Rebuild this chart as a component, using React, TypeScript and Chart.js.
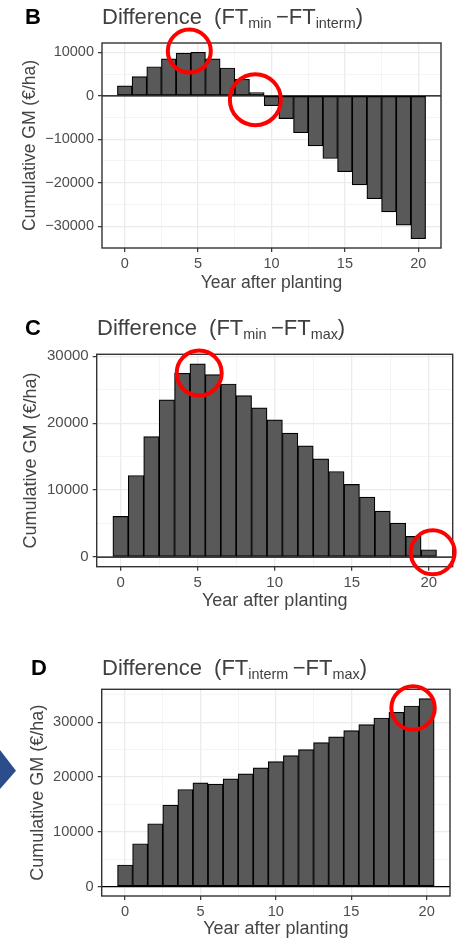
import React, { useEffect, useRef } from 'react';
import { Chart, registerables } from 'chart.js';

Chart.register(...registerables);

// ---------- data ----------
const years = [0, 1, 2, 3, 4, 5, 6, 7, 8, 9, 10, 11, 12, 13, 14, 15, 16, 17, 18, 19, 20];

// B: Difference (FT_min - FT_interm)
const diffMinInterm = [2280, 4400, 6680, 8500, 9800, 10000, 8500, 6400, 3800, 760, -2280, -5240, -8500, -11540, -14430, -17460, -20500, -23690, -26730, -29760, -32880];
// C: Difference (FT_min - FT_max)
const diffMinMax = [6070, 12190, 18010, 23480, 27460, 28860, 27260, 25870, 24130, 22290, 20500, 18510, 16620, 14680, 12790, 10850, 8960, 6870, 5070, 3080, 1090];
// D: Difference (FT_interm - FT_max)
const diffIntermMax = [3950, 7830, 11480, 14880, 17730, 18940, 18700, 19670, 20580, 21680, 22830, 23920, 25010, 26290, 27320, 28480, 29570, 30780, 31820, 32970, 34300];

const xMajorTicks = [0, 5, 10, 15, 20];
const xMinorTicks = [2.5, 7.5, 12.5, 17.5];

const yMajorTicksB = [-30000, -20000, -10000, 0, 10000];
const yMinorTicksB = [-25000, -15000, -5000, 5000];
const yMajorTicksC = [0, 10000, 20000, 30000];
const yMinorTicksC = [5000, 15000, 25000];
const yMajorTicksD = [0, 10000, 20000, 30000];
const yMinorTicksD = [5000, 15000, 25000, 35000];

// highlighted points (data coordinates)
const circlesB = [{ x: 4.4, y: 10300 }, { x: 8.9, y: -900 }];
const circlesC = [{ x: 5.1, y: 27500 }, { x: 20.25, y: 700 }];
const circlesD = [{ x: 19.1, y: 32600 }];

const xAxisTitle = 'Year after planting';
const yAxisTitle = 'Cumulative GM (€/ha)';

// ---------- styling / layout ----------
const FONT = '"Liberation Sans", Arial, Helvetica, sans-serif';
const fmt = (v: number) => (v < 0 ? '\u2212' + Math.abs(v) : String(v));

function yRange(values: number[]) {
  const mn = Math.min(0, ...values);
  const mx = Math.max(0, ...values);
  const e = (mx - mn) * 0.05;
  return [mn - e, mx + e];
}
const xMin = years[0] - 0.5 - 0.05 * (years.length);
const xMax = years[years.length - 1] + 0.5 + 0.05 * (years.length);

type PanelCfg = {
  values: number[];
  yMajor: number[];
  yMinor: number[];
  circles: { x: number; y: number }[];
  radii: number[];
  top: number;
  height: number;
  padding: { top: number; right: number; bottom: number; left: number };
  yWidth: number;
  xHeight: number;
  yTitlePad: number;
  xTitlePad: number;
  titleSize: number;
  tickSize: number;
};

const panels: PanelCfg[] = [
  {
    values: diffMinInterm, yMajor: yMajorTicksB, yMinor: yMinorTicksB, circles: circlesB, radii: [21.5, 25.5],
    top: 0, height: 300, padding: { top: 43, right: 17, bottom: 4, left: 0 }, yWidth: 102, xHeight: 48,
    yTitlePad: 19.5, xTitlePad: 2.5, titleSize: 17.5, tickSize: 14.5,
  },
  {
    values: diffMinMax, yMajor: yMajorTicksC, yMinor: yMinorTicksC, circles: circlesC, radii: [22.5, 22],
    top: 310, height: 310, padding: { top: 44.3, right: 5.3, bottom: 5.3, left: 0 }, yWidth: 96.7, xHeight: 48,
    yTitlePad: 20.5, xTitlePad: 3, titleSize: 18, tickSize: 15,
  },
  {
    values: diffIntermMax, yMajor: yMajorTicksD, yMinor: yMinorTicksD, circles: circlesD, radii: [21.7],
    top: 640, height: 300, padding: { top: 49.3, right: 8, bottom: 0, left: 0 }, yWidth: 101.7, xHeight: 44,
    yTitlePad: 27.3, xTitlePad: 0, titleSize: 18, tickSize: 14.6,
  },
];

const headers = [
  { letter: 'B', a: 'min', b: 'interm', letterX: 25, titleX: 102, baseline: 25 },
  { letter: 'C', a: 'min', b: 'max', letterX: 25, titleX: 97, baseline: 336 },
  { letter: 'D', a: 'interm', b: 'max', letterX: 31, titleX: 102, baseline: 675.7 },
];

function Panel({ cfg }: { cfg: PanelCfg }) {
  const ref = useRef<HTMLCanvasElement>(null);
  useEffect(() => {
    if (!ref.current) return;
    const [yMin, yMax] = yRange(cfg.values);
    const xTicks = [...xMajorTicks, ...xMinorTicks].sort((a, b) => a - b);
    const yTicks = [...cfg.yMajor, ...cfg.yMinor].sort((a, b) => a - b);
    const isXMajor = (ctx: any) => ctx.tick && xMajorTicks.includes(ctx.tick.value);
    const isYMajor = (ctx: any) => ctx.tick && cfg.yMajor.includes(ctx.tick.value);

    const deco = {
      id: 'panelDeco',
      afterDatasetsDraw(chart: any) {
        const { ctx, chartArea: a, scales } = chart;
        const y0 = scales.y.getPixelForValue(0);
        ctx.save();
        ctx.strokeStyle = '#000';
        ctx.lineWidth = 1.3;
        ctx.beginPath();
        ctx.moveTo(a.left, y0);
        ctx.lineTo(a.right, y0);
        ctx.stroke();
        ctx.strokeStyle = '#333';
        ctx.lineWidth = 1.4;
        ctx.strokeRect(a.left, a.top, a.right - a.left, a.bottom - a.top);
        ctx.restore();
      },
      afterDraw(chart: any) {
        const { ctx, scales } = chart;
        ctx.save();
        ctx.strokeStyle = '#f00';
        ctx.lineWidth = 4;
        cfg.circles.forEach((c, i) => {
          ctx.beginPath();
          ctx.arc(scales.x.getPixelForValue(c.x), scales.y.getPixelForValue(c.y), cfg.radii[i], 0, Math.PI * 2);
          ctx.stroke();
        });
        ctx.restore();
      },
    };

    const chart = new Chart(ref.current, {
      type: 'bar',
      data: {
        datasets: [
          {
            data: years.map((x, i) => ({ x, y: cfg.values[i] })),
            backgroundColor: '#595959',
            borderColor: '#000',
            borderWidth: 1.2,
            borderSkipped: false,
            categoryPercentage: 1,
            barPercentage: 1,
          } as any,
        ],
      },
      options: {
        responsive: false,
        animation: false,
        devicePixelRatio: 1,
        layout: { padding: cfg.padding },
        plugins: { legend: { display: false }, tooltip: { enabled: false } },
        scales: {
          x: {
            type: 'linear',
            min: xMin,
            max: xMax,
            offset: false,
            afterBuildTicks: (s: any) => {
              s.ticks = xTicks.map((v) => ({ value: v }));
            },
            afterFit: (s: any) => {
              s.height = cfg.xHeight;
            },
            ticks: {
              autoSkip: false,
              maxRotation: 0,
              padding: 3,
              color: '#4d4d4d',
              font: { family: FONT, size: cfg.tickSize },
              callback: (v: any) => (xMajorTicks.includes(v) ? String(v) : ''),
            },
            grid: {
              offset: false,
              color: (ctx: any) => (isXMajor(ctx) ? '#EBEBEB' : '#F1F1F1'),
              lineWidth: (ctx: any) => (isXMajor(ctx) ? 1.3 : 0.8),
              tickLength: 4,
              tickWidth: 1.2,
              tickColor: (ctx: any) => (isXMajor(ctx) ? '#333' : 'rgba(0,0,0,0)'),
            },
            border: { display: false },
            title: {
              display: true,
              text: xAxisTitle,
              color: '#444',
              font: { family: FONT, size: cfg.titleSize },
              padding: { top: 0, bottom: cfg.xTitlePad },
            },
          },
          y: {
            type: 'linear',
            min: yMin,
            max: yMax,
            afterBuildTicks: (s: any) => {
              s.ticks = yTicks.map((v) => ({ value: v }));
            },
            afterFit: (s: any) => {
              s.width = cfg.yWidth;
            },
            ticks: {
              autoSkip: false,
              padding: 4,
              color: '#4d4d4d',
              font: { family: FONT, size: cfg.tickSize },
              callback: (v: any) => (cfg.yMajor.includes(v) ? fmt(v) : ''),
            },
            grid: {
              color: (ctx: any) => (isYMajor(ctx) ? '#EBEBEB' : '#F1F1F1'),
              lineWidth: (ctx: any) => (isYMajor(ctx) ? 1.3 : 0.8),
              tickLength: 4,
              tickWidth: 1.2,
              tickColor: (ctx: any) => (isYMajor(ctx) ? '#333' : 'rgba(0,0,0,0)'),
            },
            border: { display: false },
            title: {
              display: true,
              text: yAxisTitle,
              color: '#444',
              font: { family: FONT, size: cfg.titleSize },
              padding: { top: cfg.yTitlePad, bottom: 0 },
            },
          },
        },
      } as any,
      plugins: [deco],
    });
    return () => chart.destroy();
  }, [cfg]);

  return (
    <canvas
      ref={ref}
      width={458}
      height={cfg.height}
      style={{ position: 'absolute', left: 0, top: cfg.top, width: 458, height: cfg.height }}
    />
  );
}

function Header({ h }: { h: (typeof headers)[number] }) {
  const top = h.baseline - 18.6;
  const sub: React.CSSProperties = { fontSize: 14.4, position: 'relative', top: 3.5 };
  return (
    <>
      <div
        style={{
          position: 'absolute', left: h.letterX, top, fontFamily: FONT, fontSize: 22, lineHeight: '22px',
          fontWeight: 'bold', color: '#000', whiteSpace: 'pre',
        }}
      >
        {h.letter}
      </div>
      <div
        style={{
          position: 'absolute', left: h.titleX, top, fontFamily: FONT, fontSize: 22, lineHeight: '22px',
          color: '#404040', whiteSpace: 'pre',
        }}
      >
        {'Difference  (FT'}
        <span style={sub}>{h.a}</span>
        {'\u2009\u2212FT'}
        <span style={sub}>{h.b}</span>
        {')'}
      </div>
    </>
  );
}

export default function App() {
  return (
    <div style={{ position: 'absolute', left: 0, top: 0, width: 458, height: 940, background: '#fff', overflow: 'hidden' }}>
      {panels.map((p, i) => (
        <Panel key={i} cfg={p} />
      ))}
      {headers.map((h, i) => (
        <Header key={i} h={h} />
      ))}
      <div
        style={{
          position: 'absolute', left: 0, top: 750, width: 16, height: 39, background: '#2b4d8c',
          clipPath: 'polygon(0 0, 100% 53%, 0 100%)',
        }}
      />
    </div>
  );
}
